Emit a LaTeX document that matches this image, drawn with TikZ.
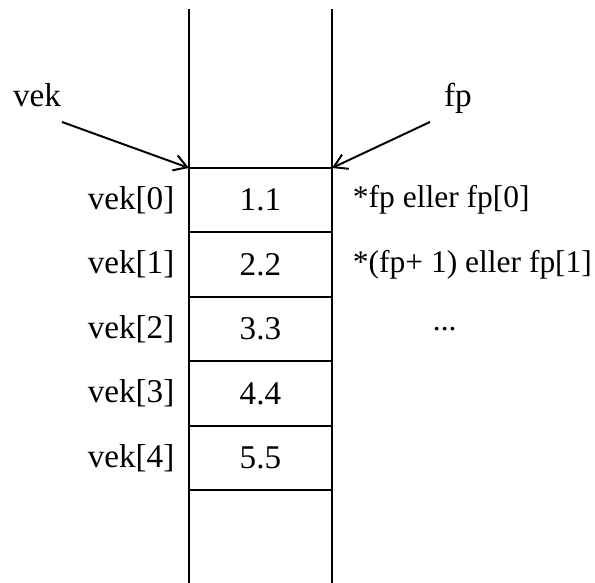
\documentclass[tikz,border=0pt]{standalone}
\usepackage{fontspec}
\setmainfont{Liberation Serif}
\usetikzlibrary{positioning,arrows.meta}

\begin{document}
\begin{tikzpicture}[
      x=1cm, y=1cm, line width=0.7pt,
      font=\fontsize{11.8}{14}\selectfont,
      cell/.style = {rectangle, draw, minimum width=1.7875cm, minimum height=0.805cm,
                     inner sep=0pt, outer sep=0pt},
      idx/.style  = {inner sep=2pt},
      acc/.style  = {inner sep=2pt, font=\fontsize{11.2}{13}\selectfont},
      ptr/.style  = {-{Straight Barb[length=4.6pt, width=5.6pt]}},
    ]
    \useasboundingbox (0,0) rectangle (7.4375,-7.2875);

    %% ------------------------------------------------ the array in memory
    \node[cell] (c0) at (3.256,-2.5025) {1.1};
    \node[cell, below=0pt of c0] (c1) {2.2};
    \node[cell, below=0pt of c1] (c2) {3.3};
    \node[cell, below=0pt of c2] (c3) {4.4};
    \node[cell, below=0pt of c3] (c4) {5.5};
    \draw (c0.north west |- 0,-0.1125) -- (c0.north west |- 0,-7.2875);
    \draw (c0.north east |- 0,-0.1125) -- (c0.north east |- 0,-7.2875);

    %% ------------------------------------------------ index names
    \node[idx, left=0.1cm of c0] (l0) {vek[0]};
    \node[idx, left=0.1cm of c1] (l1) {vek[1]};
    \node[idx, left=0.1cm of c2] (l2) {vek[2]};
    \node[idx, left=0.1cm of c3] (l3) {vek[3]};
    \node[idx, left=0.1cm of c4] (l4) {vek[4]};

    %% ------------------------------------------------ pointer access
    \node[acc, right=0.18cm of c0] (r0) {*fp eller fp[0]};
    \node[acc, right=0.18cm of c1] (r1) {*(fp+ 1) eller fp[1]};
    \node[acc, right=1.18cm of c2] (r2) {...};

    %% ------------------------------------------------ both point at the first cell
    \node[idx] (vek) at (0.4625,-1.19) {vek};
    \node[idx] (fp) at (5.725,-1.225) {fp};
    \coordinate (vekfoot) at (0.775,-1.525);
    \coordinate (fpfoot) at (5.375,-1.525);
    \draw[ptr] (vekfoot) -- (c0.north west);
    \draw[ptr] (fpfoot) -- (c0.north east);
  \end{tikzpicture}
\end{document}
